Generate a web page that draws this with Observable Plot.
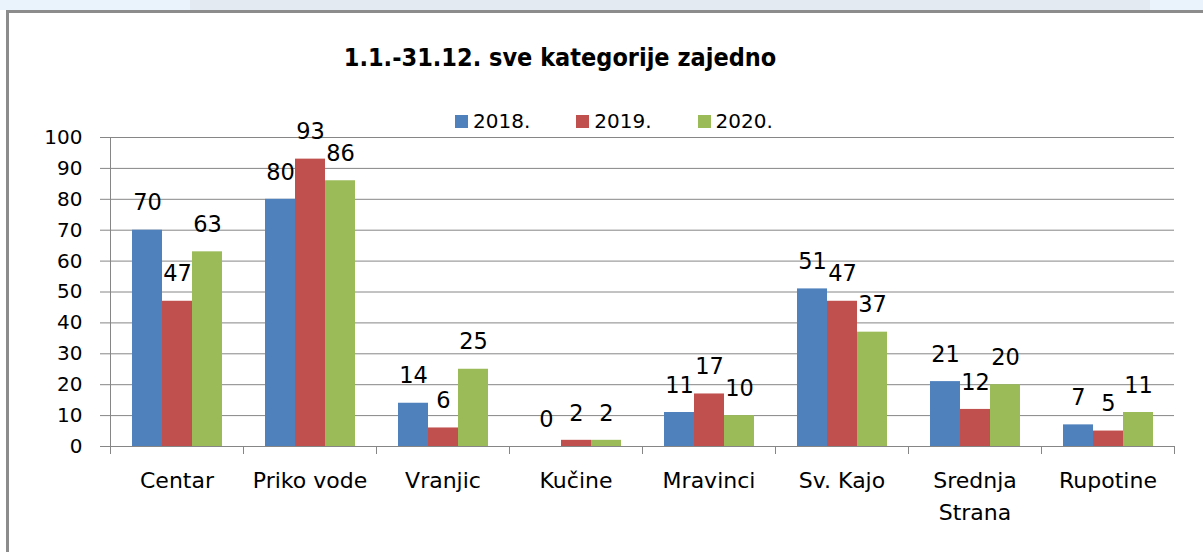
<!DOCTYPE html>
<html>
<head>
<meta charset="utf-8">
<script src="https://cdn.jsdelivr.net/npm/d3@7"></script>
<script src="https://cdn.jsdelivr.net/npm/@observablehq/plot@0.6"></script>
<style>
  html, body { margin: 0; padding: 0; }
  body { width: 1203px; height: 552px; position: relative; overflow: hidden; background: #fff; font-family: "DejaVu Sans", sans-serif; }
  #strip { position: absolute; left: 0; top: 0; width: 1203px; height: 10px; background: #eaf2fc; }
  #strip2 { position: absolute; left: 190px; top: 0; width: 960px; height: 10px; background: #e4eaf2; }
  #frame { position: absolute; left: 6px; top: 10px; right: 0; bottom: 0; border-top: 3px solid #8c8c8c; border-left: 3px solid #8c8c8c; }
  #title { position: absolute; left: 0; width: 1120px; top: 43px; text-align: center; font-family: "DejaVu Sans Condensed", "DejaVu Sans", sans-serif; font-weight: bold; font-size: 25px; color: #000; }
  #legend { position: absolute; left: 455px; top: 109px; display: flex; align-items: center; font-size: 20px; color: #000; }
  #legend .item { display: flex; align-items: center; margin-right: 46px; }
  #legend .sw { width: 13px; height: 13px; margin-right: 5px; }
  #chart { position: absolute; left: 0; top: 100px; }
</style>
</head>
<body>
<div id="strip"></div><div id="strip2"></div>
<div id="frame"></div>
<div id="title">1.1.-31.12. sve kategorije zajedno</div>
<div id="legend"></div>
<div id="chart"></div>
<script>
const categories = ["Centar", "Priko vode", "Vranjic", "Kučine", "Mravinci", "Sv. Kajo", "Srednja Strana", "Rupotine"];
const years = ["2018.", "2019.", "2020."];
const values2018 = [70, 80, 14, 0, 11, 51, 21, 7];
const values2019 = [47, 93, 6, 2, 17, 47, 12, 5];
const values2020 = [63, 86, 25, 2, 10, 37, 20, 11];
const yTicks = [0, 10, 20, 30, 40, 50, 60, 70, 80, 90, 100];
const colors = ["#4F81BD", "#C0504D", "#9BBB59"];

const series = [values2018, values2019, values2020];
const rows = [];
categories.forEach((c, i) => years.forEach((y, j) => rows.push({cat: c, year: y, value: series[j][i]})));

// legend
const legend = document.getElementById("legend");
years.forEach((y, j) => {
  const it = document.createElement("div");
  it.className = "item";
  it.innerHTML = `<div class="sw" style="background:${colors[j]}"></div><span>${y}</span>`;
  legend.appendChild(it);
});

const gridColor = "#868686";
const plot = Plot.plot({
  width: 1203,
  height: 452,
  marginTop: 37,
  marginBottom: 106,
  marginLeft: 108,
  marginRight: 28,
  style: { fontFamily: "DejaVu Sans, sans-serif", background: "transparent", color: "#000" },
  fx: { domain: categories, padding: 0, label: null, axis: null },
  x: { domain: years, paddingInner: 0, paddingOuter: 0.7, axis: null },
  y: { domain: [0, 100], axis: null },
  color: { domain: years, range: colors },
  marks: [
    Plot.ruleY(yTicks, { stroke: gridColor, strokeWidth: 1 }),
    Plot.barY(rows, { fx: "cat", x: "year", y: "value", fill: "year" }),
    Plot.text(rows, { fx: "cat", x: "year", y: "value", text: d => String(d.value), dy: -27, fontSize: 22.5, fill: "#000" }),
    Plot.axisY({ ticks: yTicks, tickSize: 10, tickPadding: 18, stroke: gridColor, fill: "#000", fontSize: 20, label: null }),
    Plot.axisFx({ anchor: "bottom", tickSize: 0, tickPadding: 19, fontSize: 22, lineHeight: 1.45, fill: "#000", label: null,
      tickFormat: d => d.length > 12 ? d.replace(" ", "\n") : d })
  ]
});
document.getElementById("chart").appendChild(plot);

// vertical axis line and category boundary ticks, placed from the plot's scales
const fx = plot.scale("fx");
const ys = plot.scale("y");
const y0 = ys.apply(0), y100 = ys.apply(100);
const svg = d3.select(plot);
const edges = categories.map(c => fx.apply(c));
edges.push(fx.apply(categories[categories.length - 1]) + fx.bandwidth);
const g = svg.append("g").attr("stroke", gridColor).attr("stroke-width", 1);
g.append("line").attr("x1", edges[0] + 0.5).attr("x2", edges[0] + 0.5).attr("y1", y100).attr("y2", y0 + 8);
edges.slice(1).forEach(x => g.append("line").attr("x1", x + 0.5).attr("x2", x + 0.5).attr("y1", y0).attr("y2", y0 + 8));
</script>
</body>
</html>
